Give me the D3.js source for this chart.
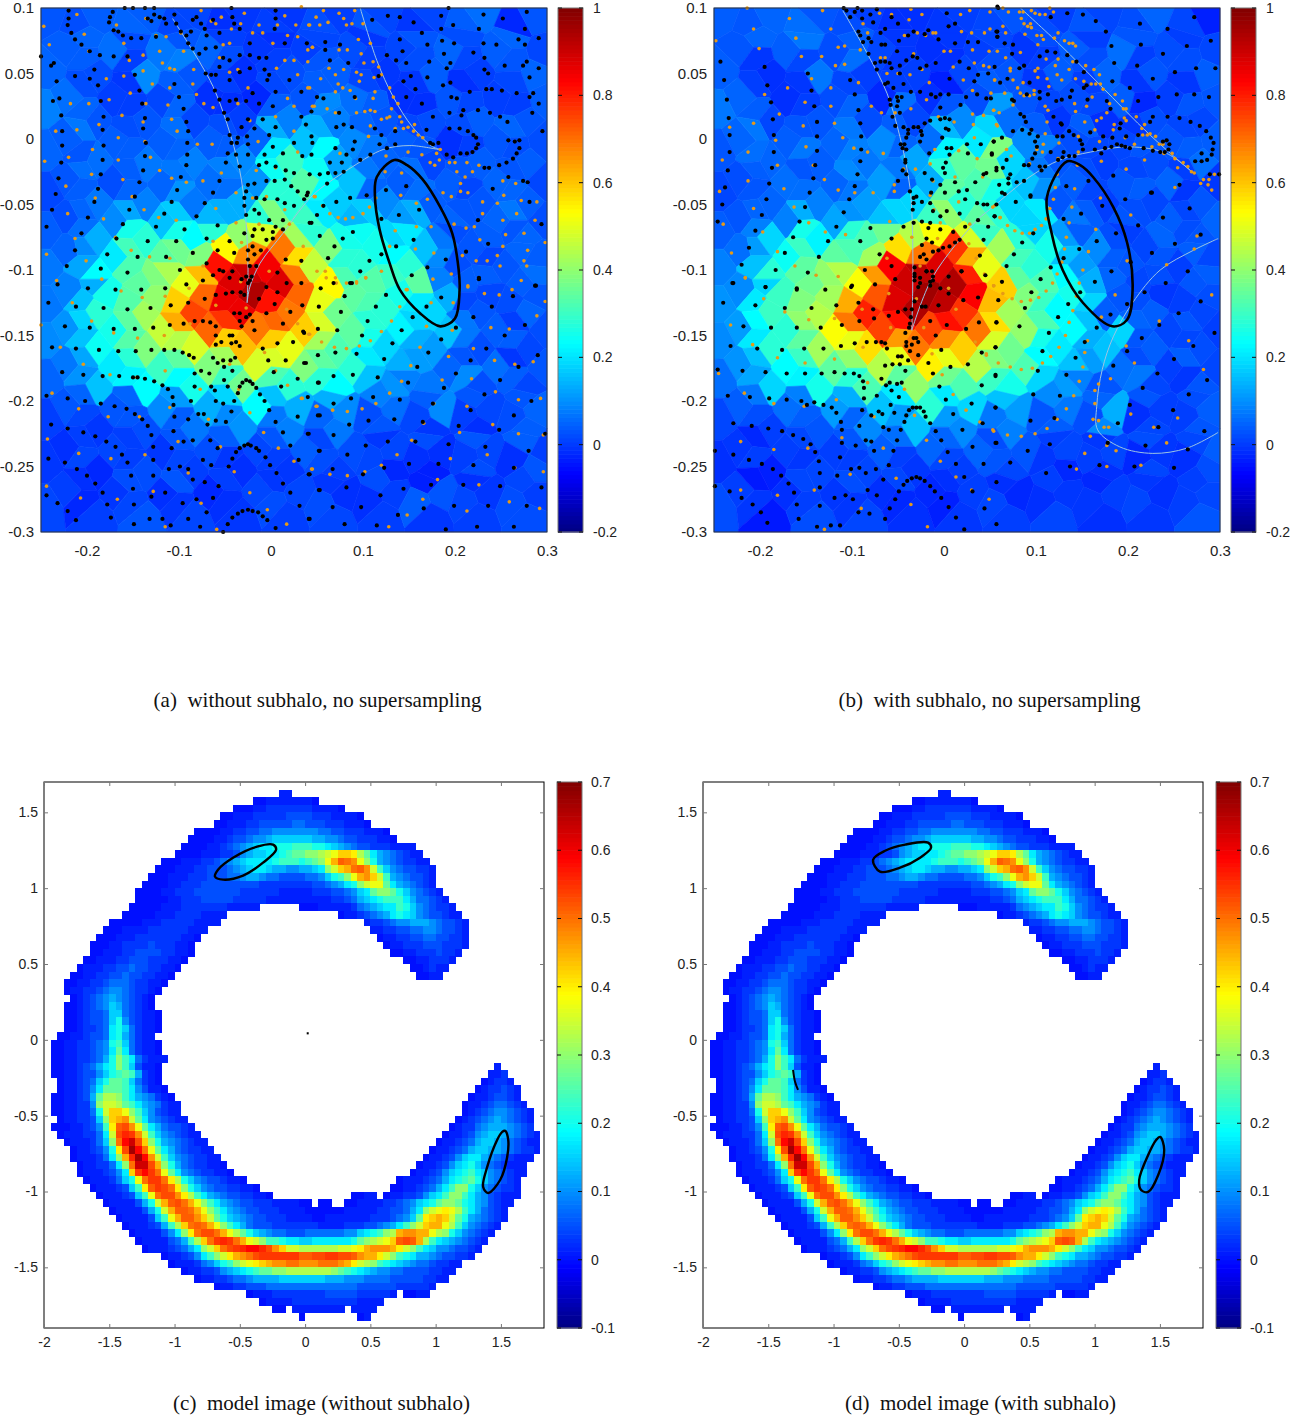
<!DOCTYPE html>
<html>
<head>
<meta charset="utf-8">
<script src="https://cdnjs.cloudflare.com/ajax/libs/d3/7.8.5/d3.min.js"></script>
<style>
body { margin: 0; background: #fff; }
svg { display: block; }
text { font-family: "Liberation Sans Narrow", "Liberation Sans", sans-serif; fill: #222; }
.caption { font-family: "Liberation Serif", serif; font-size: 21px; fill: #111; }
</style>
</head>
<body>
<div id="chart"></div>
<script>
// tick labels
const sourceXTicks = [-0.2, -0.1, 0, 0.1, 0.2, 0.3];
const sourceYTicks = [0.1, 0.05, 0, -0.05, -0.1, -0.15, -0.2, -0.25, -0.3];
const sourceBarTicks = [1, 0.8, 0.6, 0.4, 0.2, 0, -0.2];
const modelXTicks = [-2, -1.5, -1, -0.5, 0, 0.5, 1, 1.5];
const modelYTicks = [1.5, 1, 0.5, 0, -0.5, -1, -1.5];
const modelBarTicks = [0.7, 0.6, 0.5, 0.4, 0.3, 0.2, 0.1, 0, -0.1];
const captions = ["(a)\u00a0 without subhalo, no supersampling", "(b)\u00a0 with subhalo, no supersampling",
  "(c)\u00a0 model image (without subhalo)", "(d)\u00a0 model image (with subhalo)"];

// source plane cells, x,y pairs in thousandths
const cellPos = [
-243,96,-209,87,-190,94,-152,85,-137,96,-101,86,-86,97,-50,88,-35,96,2,84,17,97,54,87,70,96,108,85,121,95,157,86,172,97,211,88,226,96,264,85,288,94,
-220,69,-203,79,-168,67,-153,77,-116,66,-98,78,-64,68,-50,79,-9,69,2,78,44,68,52,77,93,68,105,79,146,69,157,78,199,66,209,79,249,68,261,78,297,67,
-243,52,-204,61,-193,49,-154,60,-141,48,-99,59,-90,50,-50,62,-35,50,2,60,17,50,53,61,66,49,106,62,120,50,157,61,173,48,210,62,222,50,262,60,286,49,
-221,33,-204,44,-167,31,-153,43,-115,30,-103,42,-62,31,-49,44,-11,32,3,43,42,31,54,43,95,31,104,44,145,32,158,43,197,30,211,44,249,31,263,43,298,31,
-247,24,-203,19,-194,14,-153,26,-139,13,-102,25,-86,14,-50,27,-36,15,2,26,14,14,56,26,65,14,110,27,118,15,162,26,169,13,213,27,221,14,266,26,275,14,
-220,1,-205,10,-165,-2,-154,9,-113,-3,-101,8,-63,-2,-49,11,-10,-1,3,9,42,-2,53,9,95,-2,105,11,147,-1,156,9,199,-3,211,11,250,-2,263,9,297,-2,
-246,-9,-205,-13,-192,-17,-154,-7,-138,-19,-101,-8,-90,-18,-48,-6,-37,-16,1,-7,16,-18,54,-7,68,-18,106,-6,119,-16,160,-7,169,-19,213,-6,224,-18,265,-7,277,-18,
-219,-31,-204,-22,-169,-33,-153,-23,-114,-35,-101,-24,-63,-33,-48,-22,-11,-32,2,-23,42,-34,53,-23,93,-33,107,-22,146,-33,158,-23,198,-35,210,-22,250,-34,263,-23,298,-33,
-244,-41,-207,-38,-191,-49,-154,-39,-140,-50,-101,-40,-89,-49,-49,-38,-37,-48,3,-39,15,-49,55,-39,67,-49,107,-38,119,-48,159,-39,171,-50,211,-38,225,-49,261,-39,277,-49,
-220,-60,-204,-54,-167,-62,-154,-55,-114,-63,-102,-56,-63,-62,-49,-54,-10,-61,3,-55,42,-62,54,-55,93,-63,107,-54,146,-61,158,-55,198,-63,210,-54,249,-62,263,-55,298,-62,
-245,-70,-205,-68,-193,-76,-153,-69,-141,-77,-101,-70,-87,-76,-63,-68,-35,-75,-11,-69,29,-76,41,-69,81,-77,94,-68,132,-75,145,-69,185,-77,197,-68,236,-76,263,-69,275,-76,
-219,-84,-205,-82,-166,-90,-154,-83,-114,-91,-101,-84,-76,-90,-48,-82,-23,-89,16,-83,29,-90,67,-83,80,-91,119,-82,133,-89,171,-83,185,-91,223,-82,237,-90,274,-83,290,-90,
-246,-98,-205,-96,-192,-104,-155,-97,-127,-105,-114,-98,-75,-104,-62,-96,-24,-103,-9,-97,27,-104,42,-97,81,-105,94,-98,133,-103,145,-97,185,-105,198,-96,235,-104,251,-97,288,-104,
-220,-116,-192,-110,-180,-118,-141,-111,-127,-119,-88,-112,-76,-118,-37,-110,-22,-117,14,-111,30,-118,66,-111,94,-119,107,-110,144,-117,159,-111,196,-119,211,-110,237,-118,276,-111,287,-118,
-245,-126,-207,-124,-191,-132,-153,-125,-141,-133,-101,-126,-89,-132,-49,-124,-37,-131,1,-125,17,-132,55,-125,67,-133,106,-124,119,-131,159,-125,171,-133,211,-124,225,-132,261,-125,277,-132,
-219,-144,-205,-138,-167,-146,-154,-139,-114,-147,-102,-140,-63,-146,-48,-138,-12,-145,4,-139,41,-146,55,-140,92,-147,108,-138,146,-145,157,-139,198,-147,210,-138,248,-146,264,-139,300,-146,
-246,-154,-206,-152,-192,-160,-154,-153,-139,-161,-102,-154,-87,-160,-50,-152,-35,-159,2,-153,16,-160,54,-154,68,-161,107,-152,120,-159,158,-153,172,-161,210,-152,224,-160,263,-153,277,-160,
-220,-172,-204,-166,-168,-174,-153,-167,-116,-175,-101,-168,-64,-174,-49,-166,-10,-173,3,-167,42,-174,54,-168,94,-175,106,-166,145,-173,159,-167,197,-175,211,-166,249,-174,262,-167,298,-174,
-244,-182,-207,-180,-191,-190,-155,-181,-140,-191,-101,-182,-89,-190,-49,-180,-37,-189,1,-181,17,-190,53,-182,69,-191,105,-180,133,-189,145,-181,171,-191,211,-180,225,-190,262,-181,277,-190,
-219,-204,-205,-195,-166,-206,-154,-196,-114,-207,-102,-197,-64,-206,-48,-195,-11,-205,4,-196,29,-206,67,-197,80,-207,119,-195,134,-205,170,-196,186,-207,222,-195,237,-206,275,-196,288,-206,
-245,-214,-205,-211,-192,-222,-153,-212,-141,-223,-102,-213,-87,-222,-50,-211,-35,-221,3,-212,16,-222,54,-213,68,-223,106,-211,119,-221,158,-212,172,-223,210,-211,224,-222,263,-212,276,-222,
-220,-236,-204,-227,-168,-238,-153,-228,-115,-239,-100,-229,-63,-238,-49,-227,-10,-237,3,-228,42,-238,54,-229,93,-239,120,-227,133,-237,171,-228,184,-239,223,-227,237,-238,274,-228,301,-238,
-246,-246,-206,-243,-191,-254,-155,-244,-139,-255,-101,-245,-89,-254,-49,-243,-36,-253,2,-244,15,-254,55,-245,69,-255,107,-243,132,-253,159,-244,172,-255,211,-243,223,-254,261,-244,288,-254,
-219,-268,-205,-259,-167,-270,-154,-260,-114,-271,-101,-261,-64,-270,-48,-259,-11,-269,4,-260,31,-270,66,-261,80,-271,118,-259,134,-269,169,-260,186,-271,222,-259,236,-270,276,-260,288,-270,
-246,-280,-206,-277,-192,-288,-153,-278,-140,-289,-102,-279,-87,-288,-50,-277,-36,-287,1,-278,17,-288,54,-279,68,-289,106,-277,119,-287,158,-278,173,-289,210,-277,224,-288,263,-278,277,-288
];
// surface brightness of those cells, hundredths
const cellValuesA = [
8,7,9,10,9,6,6,3,4,5,4,7,5,8,6,4,6,9,11,2,8,
9,10,11,7,12,8,10,5,4,3,5,6,7,4,6,8,10,7,9,10,6,
10,9,7,5,14,13,8,7,3,5,7,8,9,5,4,7,9,6,5,8,10,
11,7,5,4,6,9,3,5,2,6,8,9,11,6,3,4,8,3,5,6,9,
13,10,8,5,8,10,6,3,5,9,13,14,13,9,8,3,7,6,9,5,8,
9,12,9,7,9,11,9,7,10,18,20,18,14,10,9,6,3,7,8,10,7,
10,8,11,9,12,10,13,9,14,24,32,26,17,12,10,8,6,5,9,7,9,
8,11,7,9,10,12,11,13,15,27,35,27,20,12,9,11,9,8,10,8,6,
6,9,12,10,13,15,12,11,18,30,30,26,21,10,14,11,9,6,8,10,9,
7,10,14,17,20,21,19,18,30,40,32,24,19,21,16,18,10,8,10,12,7,
9,11,18,28,30,28,26,30,42,50,44,30,28,27,22,24,12,7,9,8,10,
10,14,24,33,36,38,40,55,68,70,58,40,30,28,26,20,14,8,6,10,9,
12,17,26,34,40,45,62,82,90,85,70,48,34,30,32,30,13,7,9,8,11,
13,18,28,36,42,52,72,88,94,88,72,55,36,35,28,36,18,9,6,9,8,
12,20,30,35,44,60,76,86,86,82,70,52,38,34,30,24,22,6,8,7,10,
15,22,28,36,48,64,72,78,70,72,60,50,36,30,25,22,20,12,9,5,7,
14,20,27,35,40,46,50,60,62,60,52,44,34,28,22,18,16,12,7,9,6,
12,17,24,30,32,36,40,44,50,50,40,36,30,24,18,16,10,8,11,4,8,
10,15,20,25,26,26,28,32,38,34,30,30,26,20,15,13,12,14,7,9,6,
8,10,8,10,14,16,18,22,26,20,18,18,14,13,11,9,14,8,6,8,10,
5,6,4,8,7,9,12,14,15,12,13,10,12,7,8,6,4,5,3,7,9,
3,5,6,5,4,8,7,9,6,8,9,6,7,4,6,7,3,8,6,9,5,
4,6,2,5,7,6,5,4,3,5,4,7,5,6,2,3,1,5,7,3,8,
5,3,4,7,3,8,2,5,6,4,6,4,3,7,5,1,8,3,4,6,5,
6,2,5,6,8,4,6,3,4,7,5,7,6,3,5,9,4,6,5,7,7
];
const cellValuesB = [
9,8,10,11,8,7,5,3,3,4,5,6,8,7,5,8,6,7,10,6,1,
8,10,9,12,7,9,6,4,3,4,5,6,4,7,9,5,11,8,7,5,6,
9,4,3,6,12,11,5,4,5,3,6,7,8,5,9,7,10,5,8,7,9,
10,5,3,4,7,6,2,5,3,1,7,9,8,4,7,5,9,4,5,4,8,
12,9,6,5,8,10,7,11,6,8,14,16,11,6,4,6,3,2,7,8,6,
10,12,9,8,10,12,14,9,11,19,24,22,14,9,7,9,6,4,8,6,9,
8,11,10,12,9,13,12,10,17,25,36,40,22,13,8,6,5,8,7,9,11,
7,9,11,8,10,14,16,12,18,30,34,38,20,12,9,7,8,6,10,5,4,
6,8,10,11,13,12,16,10,22,36,30,28,22,15,8,6,5,9,6,4,8,
8,10,13,18,17,15,20,22,32,42,36,30,22,24,12,9,8,7,9,6,10,
9,13,22,28,25,30,34,38,46,54,50,32,30,22,16,9,7,5,10,7,8,
11,16,27,32,36,34,44,58,70,78,64,44,33,28,20,14,9,6,8,9,6,
13,20,30,36,42,46,66,84,92,88,80,52,36,30,26,16,10,8,7,5,9,
14,22,32,38,44,54,74,90,96,94,84,60,40,34,28,18,8,6,4,8,7,
15,24,32,40,46,64,80,88,94,92,78,62,44,32,26,22,9,7,9,5,6,
16,26,30,42,54,70,76,82,76,82,70,58,42,34,26,20,22,10,6,8,5,
14,24,30,36,44,52,58,66,70,68,60,50,38,28,24,18,20,8,9,6,7,
15,20,26,32,36,42,46,52,56,52,46,40,34,26,20,16,11,7,5,9,6,
11,17,22,25,28,30,34,36,42,38,34,32,28,22,16,13,8,12,6,4,8,
9,12,11,13,16,18,20,24,30,24,22,20,16,14,12,10,18,8,5,7,9,
6,7,5,9,8,10,14,16,20,16,14,12,13,8,9,7,14,3,6,5,8,
4,2,5,6,5,8,9,11,10,10,10,7,8,5,6,4,6,7,4,6,9,
3,5,1,4,6,5,6,5,4,6,5,8,6,4,2,5,3,2,6,3,7,
5,0,3,6,4,7,3,6,2,3,5,3,2,5,4,2,5,4,3,5,6,
7,4,0,5,7,4,6,2,3,1,4,6,5,3,6,4,3,6,4,5,8
];
// what those read-off numbers come to on the colour bar
const cellCalibIn = [0, 10, 20, 30, 100];
const cellCalibOut = [-0.04, 0.05, 0.16, 0.28, 1];

// ray traced pixels, x,y pairs in thousandths
const blackA = [
-250,63,-239,56,-236,58,-233,44,-237,29,-230,31,-228,18,-227,6,-227,-5,-228,-18,-231,-30,-234,-42,-238,-54,-244,-67,-220,98,-220,92,-221,87,-217,81,-213,76,-206,72,-213,48,-197,46,-192,53,-197,67,-186,64,-188,41,-185,29,-182,17,-183,7,-182,-5,-183,-16,-185,-27,-188,-38,-192,-48,-199,-60,-206,-72,-213,-85,-222,-97,
-172,97,-175,93,-176,89,-171,83,-166,82,-161,79,-152,77,-141,77,-159,100,-150,100,-137,100,-127,100,-171,63,-156,63,-148,49,-143,37,-140,27,-137,16,-139,8,-136,-3,-137,-13,-139,-24,-143,-33,-148,-44,-154,-54,-161,-65,-168,-76,-178,-88,-185,-99,
-134,92,-130,90,-127,95,-121,93,-116,92,-114,88,-105,95,-103,88,-98,82,-92,79,-87,82,-85,91,-81,93,-76,88,-72,84,-70,79,-63,91,-56,81,-43,100,-42,93,-40,88,-34,84,-23,73,5,98,5,92,4,84,15,73,-125,78,-90,73,-85,69,-78,65,-71,69,-60,70,-52,62,-45,60,-34,64,-23,64,-13,62,-5,62,-71,50,-65,49,-60,49,-56,55,-45,45,-34,51,-23,54,-7,53,-2,49,-4,45,-61,37,-56,30,-45,29,-38,30,-27,29,-20,35,-13,27,2,25,5,36,20,45,33,36,-51,20,-47,15,-45,3,-43,-3,-36,1,-32,9,-25,15,-18,8,-26,2,-25,-4,-37,-3,-47,-11,-38,-12,-25,-12,-49,-18,-34,-21,-9,15,5,9,-2,3,-7,-12,2,-6,13,-11,25,-3,33,17,38,11,44,2,45,-3,34,-13,44,-12,-13,-20,-5,-18,5,-21,16,-24,25,-26,42,-27,-25,-35,-27,-40,-29,-45,-18,-34,-5,-32,4,-32,15,-31,22,-36,29,-40,40,-41,-16,-45,-7,-46,7,-46,15,-49,25,-51,36,-46,-29,-51,-18,-54,-13,-57,-27,-58,-2,-62,13,-62,5,-67,-18,-69,-9,-69,2,-71,13,-69,-20,-74,-5,-77,2,-76,-25,-85,-20,-82,-18,-88,-11,-85,-25,-92,-23,-97,-16,-97,-27,-105,-21,-105,-32,-107,
-105,42,-100,32,-95,23,-92,13,-90,6,-91,-3,-91,-12,-92,-20,-98,-29,-102,-39,-108,-48,-116,-57,-125,-67,-134,-78,-145,-90,-156,-102,-56,-32,-63,-41,-72,-49,-81,-59,-94,-69,-103,-78,-114,-90,-99,-100,-85,-87,-70,-76,-58,-66,-45,-78,-58,-85,-70,-95,-56,-100,-42,-101,-40,-87,-29,-72,16,-92,7,-102,33,-93,44,-64,53,-74,
110,91,127,94,140,93,155,89,164,81,185,94,198,87,185,84,193,100,231,95,252,92,278,97,276,84,226,84,140,76,126,64,143,67,170,72,186,75,199,73,231,73,245,72,269,76,291,77,276,72,220,66,188,65,172,59,147,58,136,60,195,58,191,54,232,62,232,53,236,50,254,56,274,56,278,59,291,54,281,47,152,48,170,47,144,44,187,41,195,43,157,38,216,36,234,38,240,38,251,37,267,35,285,35,281,32,147,32,164,27,196,32,202,31,209,22,207,18,194,20,225,22,238,20,249,17,257,13,291,27,284,20,295,6,258,-1,265,-2,270,-1,270,-7,267,-11,263,-15,256,-18,248,-20,237,-22,232,-22,214,6,220,3,223,1,225,-4,223,-7,219,-10,213,-11,206,-11,198,-14,191,-12,205,8,194,8,176,17,169,7,182,-3,176,-4,173,-3,274,-32,279,-33,258,-29,241,-38,281,-48,225,-62,294,-65,236,-80,212,-86,190,-92,170,-98,226,-106,287,-112,
79,11,88,9,71,9,91,-2,89,-8,82,-12,70,-7,77,-18,64,-18,62,-26,70,-26,79,-25,97,-16,108,-12,118,-4,126,-7,135,-4,113,8,120,3,135,6,104,-43,86,-45,71,-48,57,-51,50,-58,39,-43,61,-34,53,-27,44,21,59,74,39,73,75,72,84,58,64,60,59,68,117,48,91,32,74,20,50,32,57,31,120,-61,139,-58,125,-39,147,-36,161,-54,89,-71,78,-76,69,-82,62,-91,136,-82,155,-77,107,-93,97,-101,86,-110,68,-110,120,-88,153,-104,42,-64,
-232,-111,-242,-125,-224,-143,-238,-159,-227,-178,-244,-196,-221,-198,-239,-218,-221,-221,-242,-244,-224,-247,-211,-252,-232,-278,-244,-272,-221,-284,-212,-291,-199,-114,-212,-128,-197,-144,-212,-160,-204,-180,-202,-200,-204,-224,-191,-227,-200,-257,-191,-263,-183,-270,-178,-279,-174,-289,-187,-161,-183,-181,-185,-202,-170,-204,-179,-231,-169,-235,-162,-241,-156,-247,-152,-257,-150,-267,-149,-279,-149,-294,-169,-115,-182,-129,-171,-145,-166,-162,-165,-181,-157,-206,-148,-210,-140,-214,-134,-219,-130,-226,-128,-235,-128,-245,-128,-257,-130,-273,-132,-290,-156,-130,-148,-145,-147,-162,-150,-182,-145,-182,-137,-183,-127,-185,-118,-188,-112,-191,-107,-197,-106,-203,-105,-212,-106,-223,-108,-236,-111,-252,-115,-270,-118,-290,-109,-295,-141,-115,-131,-129,-128,-144,-130,-161,-116,-161,-105,-161,-96,-163,-89,-165,-84,-167,-115,-114,-109,-127,-110,-142,
-92,-111,-90,-125,-95,-141,-83,-139,-74,-139,-66,-140,-60,-143,-72,-122,-60,-119,-49,-118,-42,-117,-33,-117,-74,-108,-63,-104,-52,-101,-45,-106,-25,-110,-23,-108,-29,-119,-34,-133,-40,-133,-27,-136,-23,-134,-20,-139,-34,-139,-32,-143,-18,-146,-60,-150,-45,-150,-42,-150,-54,-155,-43,-156,-38,-155,-34,-158,-60,-157,-63,-167,-58,-171,-52,-169,-44,-169,-39,-167,-51,-174,-42,-177,-83,-179,-76,-177,-67,-179,-51,-184,-83,-189,-65,-189,-61,-192,-47,-189,-87,-200,-60,-200,-52,-202,-40,-200,-43,-208,-79,-210,-73,-210,-90,-214,-69,-218,-60,-215,-49,-216,-95,-231,-85,-230,-66,-230,
-36,-194,-34,-189,-31,-186,-27,-184,-23,-185,-20,-187,-16,-190,-12,-195,-46,-250,-42,-244,-38,-239,-34,-236,-29,-234,-25,-233,-22,-234,-16,-236,-13,-238,-6,-243,-47,-294,-42,-289,-36,-286,-31,-284,-25,-283,-20,-284,-14,-285,-9,-288,-4,-291,5,-297,
-74,-245,-99,-250,-90,-252,-85,-260,-72,-262,-58,-236,-65,-249,-57,-265,-63,-274,-96,-278,-81,-275,-90,-290,-70,-285,-77,-296,-52,-300,-1,-249,6,-255,13,-263,21,-270,31,-280,41,-290,21,-234,13,-224,30,-245,40,-225,52,-238,29,-212,5,-216,-2,-207,-7,-200,11,-189,29,-183,51,-186,51,-211,41,-256,52,-268,-3,-169,3,-178,16,-169,36,-171,7,-156,24,-155,-9,-160,13,-141,-5,-133,-13,-122,4,-126,21,-132,35,-147,34,-127,33,-110,17,-110,7,-117,-5,-113,
54,-114,80,-120,88,-110,52,-128,76,-132,36,-148,51,-145,72,-146,38,-171,51,-165,70,-163,93,-164,68,-181,52,-186,89,-180,116,-182,40,-197,68,-202,87,-198,111,-197,53,-211,106,-215,85,-218,41,-225,68,-226,53,-238,83,-241,103,-234,67,-252,42,-256,100,-256,53,-268,82,-266,67,-281,98,-281,42,-290,80,-294,115,-295,138,-287,166,-282,119,-272,144,-267,174,-264,123,-251,150,-248,182,-248,127,-231,157,-231,193,-233,134,-214,165,-216,204,-219,140,-199,176,-202,232,-195,217,-207,188,-190,149,-186,201,-179,159,-174,217,-169,123,-168,171,-163,234,-160,269,-174,249,-184,132,-156,185,-153,201,-144,254,-150,276,-142,220,-136,154,-136,169,-128,185,-121,142,-146,114,-128,105,-139,99,-150,125,-119,240,-128,263,-120,226,-107,288,-112,264,-211,283,-200,290,-165,248,-222,298,-225,233,-235,280,-238,220,-249,264,-251,209,-264,249,-265,294,-266,199,-280,236,-280,278,-280,190,-298,224,-296,264,-296
];
const orangeA = [
-247,86,-241,72,-211,95,-203,80,-198,67,-179,46,-176,30,-198,27,-218,27,-234,6,-211,7,-187,11,-162,18,-166,1,-194,-8,-220,-14,-246,-17,-195,-27,-166,-16,-161,-31,-223,-36,-191,-45,-221,-57,-182,-61,-151,-44,-138,-54,-122,-60,-103,-62,-213,-76,-169,-75,-152,-85,-244,-88,-201,-93,-132,-90,-110,-91,-168,87,-160,73,-154,60,-160,48,-139,64,-139,52,-153,35,-136,27,-129,42,-118,58,-121,67,-110,54,-105,53,-110,39,-112,26,-108,15,-139,13,-137,-2,-131,-14,-121,-24,-108,-30,-92,-33,-102,6,-80,-4,-64,-4,-73,27,-63,24,-85,42,-81,34,-84,53,-95,67,-136,92,-125,79,-114,78,-98,81,-76,98,-65,90,-60,88,-54,93,-43,84,-29,96,-33,88,-20,81,-13,87,-9,81,-23,73,2,73,15,94,7,87,33,101,18,79,27,87,42,87,49,93,15,60,25,60,40,59,45,70,40,68,29,78,6,54,29,49,40,39,18,31,25,25,45,25,-52,72,-45,73,-56,62,-45,51,-36,53,-25,39,-36,27,-23,14,5,17,25,6,-14,-2,29,-10,5,-22,-16,-24,-5,-44,-20,-45,-38,-41,-60,-53,-54,-26,-74,-32,-38,-64,-13,-65,-32,-79,-63,-78,-85,-87,-74,-97,35,-82,47,-44,15,-54,20,-65,
57,98,41,87,53,87,62,89,74,96,79,92,82,87,88,88,91,98,100,88,95,76,108,73,45,70,74,68,83,68,98,65,101,58,111,59,117,55,120,49,112,47,93,51,98,49,79,53,63,54,54,46,70,49,73,42,78,39,86,37,96,44,42,39,92,31,70,36,113,36,111,31,129,39,133,32,138,27,131,23,108,22,113,21,93,20,102,21,70,20,61,23,47,25,126,16,120,15,129,17,140,17,142,13,135,8,144,8,149,9,156,11,108,10,106,2,155,6,160,3,165,1,184,-8,180,-11,164,-12,149,-10,125,-13,75,-11,173,-18,183,-16,178,-20,194,-18,200,-18,213,-18,226,-20,202,-25,219,-25,211,-29,124,-25,142,-26,206,-34,187,-41,196,-44,206,-40,214,-41,230,-48,246,-49,253,-43,252,-32,266,-34,272,-47,289,-48,230,-57,252,-62,267,-57,199,-65,212,-68,221,-67,287,-62,275,-72,255,-73,227,-77,298,-79,252,-82,279,-85,208,-89,246,-89,223,-93,235,-93,275,-93,278,-97,214,-112,249,-97,
114,-45,141,-43,158,-49,170,-46,135,-70,158,-67,174,-67,129,-82,157,-84,177,-87,176,-107,196,-103,148,-115,107,-52,100,-57,89,-60,81,-61,73,-60,64,-57,56,-51,48,-44,70,-106,50,-101,59,-101,82,-110,93,-110,103,-106,120,-101,
-233,-108,-216,-125,-195,-139,-250,-142,-229,-159,-204,-172,-238,-194,-209,-206,-177,-212,-143,-212,-243,-229,-209,-240,-174,-244,-137,-241,-244,-265,-207,-274,-167,-275,-128,-269,-76,-278,-115,-296,-90,-255,-101,-231,-55,-235,-68,-214,-110,-205,-77,-191,-115,-177,-146,-182,-175,-180,-45,-172,-35,-191,-23,-209,-8,-224,8,-236,25,-246,44,-252,-40,-254,-23,-270,-4,-283,17,-294,-59,-298,18,-188,33,-198,49,-204,5,-177,-7,-163,-145,-152,-171,-148,-163,-116,-140,-121,-184,-107,-116,-150,-115,-120,-88,-141,-60,-127,-27,-129,-33,-109,-2,-101,17,-130,29,-141,41,-149,-89,-114,
50,-204,67,-207,83,-208,99,-206,114,-202,129,-194,142,-185,152,-173,162,-159,34,-198,45,-252,64,-256,83,-257,102,-254,120,-249,137,-241,153,-230,166,-217,177,-202,186,-184,193,-166,197,-146,198,-125,174,-125,169,-143,140,-128,131,-139,120,-147,108,-154,96,-158,82,-160,69,-159,55,-155,42,-149,147,-115,71,-110,60,-106,93,-109,103,-106,214,-113,232,-118,248,-119,262,-115,272,-108,298,-124,289,-135,259,-145,239,-144,220,-160,243,-169,265,-172,285,-170,218,-183,244,-193,269,-199,293,-198,213,-204,241,-218,269,-225,296,-226,205,-224,235,-241,265,-251,296,-254,195,-244,226,-264,259,-277,292,-282,181,-260,213,-284,165,-275,148,-287,128,-296
];
const blackB = [
-243,59,-239,45,-236,30,-234,16,-233,3,-233,-10,-235,-24,-238,-37,-241,-50,-246,-63,-195,55,-192,41,-188,28,-186,15,-185,3,-185,-10,-187,-22,-190,-34,-193,-46,-198,-58,-205,-70,-212,-83,-220,-96,-230,-110,-148,50,-144,37,-141,25,-138,13,-138,2,-138,-9,-140,-20,-142,-30,-146,-41,-151,-52,-157,-63,-164,-75,-173,-87,-183,-100,-194,-113,-102,45,-97,34,-93,22,-91,12,-90,2,-90,-8,-91,-17,-94,-27,-97,-36,-103,-46,-109,-56,-117,-67,-126,-78,-136,-90,-148,-102,-160,-114,
-109,100,-106,98,-102,93,-97,97,-94,100,-89,98,-89,92,-93,82,-91,79,-88,74,-82,77,-79,74,-80,95,-77,89,-73,99,-69,81,-64,84,-68,72,-64,72,-57,93,-50,88,-51,67,-49,75,-39,79,-33,82,-17,83,-21,80,-6,76,5,86,12,88,12,73,3,96,26,74,37,74,57,82,58,78,59,100,
-82,65,-75,58,-73,53,-69,59,-64,59,-59,58,-57,54,-48,56,-41,60,-34,63,-29,62,-26,54,-19,56,-9,58,-48,50,17,59,27,54,37,49,48,50,-64,42,-61,43,-55,39,-44,42,-51,32,-46,32,-36,36,-26,36,-14,34,-9,32,-4,34,5,34,6,46,33,44,24,32,36,34,46,31,51,31,-59,30,-58,26,-50,29,-51,25,-4,24,18,26,-48,20,-56,17,-53,10,-44,9,-39,7,-33,9,-28,9,-25,6,-24,3,-39,4,-41,1,-43,-4,-47,-4,-45,-7,-41,-8,-26,-2,-21,12,-15,14,-4,15,1,16,6,15,2,8,5,7,-2,1,3,-7,8,-7,6,-12,-42,-16,-42,-18,-45,-24,-41,-27,-50,-32,-37,-40,-16,-11,25,-4,40,-4,54,-2,52,-11,26,-11,2,-18,-1,-22,1,-26,-21,-26,-13,-31,-4,-35,12,-33,34,-33,43,-27,46,-26,57,-22,
-33,-45,-30,-44,-33,-49,-34,-54,-24,-48,-14,-41,1,-41,16,-40,25,-39,36,-49,43,-50,47,-50,23,-46,17,-57,3,-55,-4,-59,-12,-55,-15,-49,-24,-63,-33,-64,-44,-67,-15,-64,-17,-68,-4,-69,10,-71,23,-67,37,-62,55,-59,57,-50,-19,-76,-24,-81,-13,-79,-6,-85,-1,-83,6,-82,12,-79,17,-77,-12,-86,-22,-88,-26,-90,-19,-92,43,-77,39,-89,19,-101,5,-105,-12,-105,-19,-101,-32,-98,-32,-105,-26,-110,-15,-112,-86,-100,-100,-112,-57,-97,-53,-107,-70,-88,-57,-76,-80,-68,-91,-78,
58,101,58,82,58,78,66,73,75,72,74,65,104,63,112,67,121,66,134,64,144,59,87,56,82,54,55,55,69,46,61,43,93,43,104,36,113,34,90,34,137,32,139,37,155,41,152,51,74,30,76,29,104,31,128,30,122,29,156,30,152,39,177,29,181,23,202,39,183,44,185,58,210,56,227,46,233,32,253,34,272,34,288,32,251,51,274,54,295,54,238,65,214,72,182,71,176,82,213,88,243,84,264,71,290,75,272,93,165,90,151,95,134,96,116,93,211,29,227,17,224,13,243,17,256,16,268,13,278,10,285,6,290,1,293,-3,292,-8,291,-12,286,-16,280,-17,280,-11,273,-17,289,-27,299,-27,
238,-2,242,-1,245,-4,244,-8,240,-10,235,-10,227,-9,217,-7,211,3,202,-7,197,-6,193,-5,188,-4,182,-6,175,-7,171,-11,164,-8,198,2,191,8,192,12,183,1,173,2,159,5,141,3,136,6,129,2,123,2,127,12,128,11,119,17,89,13,87,17,83,19,85,7,95,7,93,4,102,2,99,-2,101,-6,99,-11,96,-15,116,-10,130,-10,136,-13,129,-14,124,-16,142,-13,150,-4,148,-1,151,-8,104,-21,106,-24,110,-21,92,-20,87,-20,79,-33,87,-32,72,-27,70,-30,64,-22,57,-24,60,-35,70,-34,66,-42,63,-41,94,-44,75,6,63,1,54,-2,52,-12,68,-16,256,-35,226,-41,184,-28,157,-32,133,-36,
94,-43,78,-48,55,-59,48,-67,97,-72,85,-79,76,-88,68,-97,63,-109,59,-123,57,-140,56,-159,56,-180,56,-205,56,-232,72,-247,111,-255,82,-143,88,-129,95,-117,105,-107,116,-98,130,-61,149,-57,172,-51,197,-46,225,-41,267,-53,238,-60,211,-66,187,-72,166,-78,147,-84,130,-91,279,-73,251,-80,226,-87,203,-94,182,-101,164,-109,148,-117,135,-126,124,-136,114,-148,107,-162,102,-177,97,-195,94,-215,91,-238,265,-101,241,-110,218,-117,199,-126,181,-134,166,-144,153,-155,143,-167,133,-180,126,-196,120,-213,115,-233,279,-124,255,-133,234,-142,215,-152,199,-162,184,-173,294,-148,271,-158,250,-168,232,-179,216,-190,202,-203,189,-217,178,-232,169,-249,137,-250,286,-184,266,-195,249,-207,233,-220,219,-234,207,-250,250,-251,265,-237,283,-223,
-229,-110,-240,-125,-218,-143,-232,-158,-246,-176,-219,-177,-235,-196,-211,-197,-229,-217,-209,-219,-191,-221,-249,-238,-229,-241,-212,-245,-198,-248,-186,-252,-177,-257,-169,-263,-163,-270,-160,-279,-158,-290,-249,-265,-233,-269,-220,-274,-208,-279,-199,-285,-192,-293,-194,-113,-205,-127,-188,-144,-203,-160,-194,-178,-190,-198,-171,-179,-176,-161,-160,-144,-173,-129,-160,-115,-171,-199,-176,-223,-164,-226,-153,-229,-145,-233,-140,-239,-136,-246,-135,-255,-135,-266,-135,-280,-138,-296,-129,-115,-144,-129,-134,-144,-152,-160,-131,-160,-151,-179,-155,-200,-149,-203,-141,-201,-131,-203,-122,-205,-117,-209,-112,-216,-111,-222,-111,-232,-113,-243,-116,-257,-119,-274,-113,-295,-123,-295,-133,-179,-119,-178,-108,-179,-98,-179,-92,-181,-88,-185,-87,-190,-87,-198,-89,-207,-92,-219,-96,-234,-101,-252,-107,-272,-99,-275,-93,-285,-81,-286,-64,-290,
-117,-127,-111,-142,-112,-158,-101,-113,-93,-125,-92,-139,-97,-156,-84,-155,-74,-155,-68,-155,-64,-156,-62,-160,-75,-111,-77,-130,-76,-137,-60,-135,-50,-132,-42,-130,-35,-130,-36,-136,-37,-141,-38,-144,-42,-148,-41,-155,-33,-152,-30,-152,-28,-155,-35,-157,-41,-158,-37,-162,-28,-165,-39,-169,-46,-166,-50,-166,-48,-172,-56,-172,-64,-173,-42,-177,-32,-124,-32,-108,-32,-103,-26,-106,-28,-113,-19,-101,-13,-101,-15,-109,-12,-108,-24,-128,-20,-128,-15,-139,-9,-150,-3,-161,-17,-171,-12,-179,-5,-189,2,-199,10,-210,20,-222,31,-235,43,-248,57,-262,7,-174,26,-172,41,-163,56,-159,56,-181,41,-188,30,-202,56,-205,42,-217,57,-232,5,-118,21,-123,-6,-127,3,-142,24,-145,37,-121,38,-140,57,-140,45,-104,19,-101,-4,-114,
-68,-183,-63,-188,-59,-186,-51,-187,-46,-186,-57,-192,-73,-196,-49,-197,-58,-203,-79,-211,-71,-208,-67,-210,-54,-209,-66,-220,-60,-222,-47,-222,-43,-216,-85,-230,-79,-231,-51,-230,-76,-238,-55,-238,-92,-251,-60,-249,-85,-255,-74,-252,-66,-260,-83,-268,-73,-272,-59,-282,-53,-275,31,-269,44,-282,13,-289,22,-298,57,-294,5,-281,-3,-274,13,-248,22,-258,4,-239,-3,-230,-9,-223,
-41,-211,-38,-207,-34,-205,-30,-205,-26,-205,-22,-208,-20,-212,-15,-217,-49,-269,-44,-264,-40,-261,-35,-259,-30,-258,-26,-259,-21,-261,-15,-265,-10,-269
];
const orangeB = [
-214,100,-168,92,-207,84,-248,75,-201,69,-161,77,-132,98,-123,84,-155,63,-133,63,-115,70,-108,71,-118,56,-108,57,-170,39,-144,46,-195,34,-123,39,-93,43,-123,25,-151,28,-179,19,-207,12,-233,9,-153,10,-119,12,-110,1,-183,-1,-150,-6,-213,-10,-241,-16,-98,-7,-83,-10,-66,-11,-142,-20,-181,-20,-213,-32,-130,-31,-244,-40,-174,-38,-115,-39,-97,-41,-77,-41,-54,-35,-54,-40,-207,-53,-163,-52,-240,-65,-147,-64,-197,-71,-129,-71,-107,-73,-59,-63,-35,-75,-181,-86,-231,-87,-162,-97,-216,-106,-139,-104,-115,-105,-88,-100,-62,-91,-91,68,-79,25,-68,20,-53,20,-36,23,-69,62,-64,62,-62,50,-50,50,-37,49,-24,53,-33,65,-43,79,-38,91,-36,99,-24,95,-29,81,-20,79,-12,81,-9,81,-57,95,-70,96,-88,88,-83,81,0,67,7,67,18,95,19,82,30,81,28,98,44,81,50,97,50,84,31,68,49,67,58,67,10,55,33,58,43,56,49,55,-16,43,21,45,55,45,31,37,51,35,-19,30,31,19,43,18,54,22,60,20,-6,17,11,13,32,11,57,11,33,1,-10,-8,16,-9,36,-15,-15,-19,-44,-23,-31,-23,12,-29,42,-29,-12,-32,-15,-43,16,-48,55,-51,-11,-54,28,-65,61,-60,-4,-64,-7,-76,27,-80,-24,-82,35,-91,45,-104,54,-112,-26,-97,
64,100,70,97,82,97,86,97,95,98,99,96,104,95,110,95,115,100,119,97,84,92,87,88,91,86,94,88,95,85,64,86,67,81,88,80,101,79,106,79,108,76,124,81,120,77,131,75,136,73,140,73,143,71,102,72,83,66,67,62,111,61,124,61,140,59,154,56,163,53,169,49,72,54,72,52,99,52,102,54,121,56,123,49,136,53,128,45,143,46,152,44,160,42,165,42,170,42,75,45,55,45,102,47,112,46,86,43,114,40,173,38,186,34,80,39,98,37,83,35,66,35,87,33,93,33,98,34,161,32,194,29,180,27,142,27,155,25,110,25,113,22,75,26,195,23,198,23,143,21,177,20,209,17,196,16,198,14,218,11,215,8,171,16,153,13,112,13,185,11,184,7,166,14,164,7,110,4,146,2,211,3,224,4,230,2,216,3,221,3,197,1,207,-4,226,-6,234,-4,238,-4,125,-3,108,-4,169,-2,54,22,101,-8,107,-10,146,-10,248,-11,251,-15,239,-11,260,-18,265,-21,269,-25,272,-26,254,-22,294,-27,282,-31,279,-34,288,-31,287,-35,291,-39,251,-37,198,-23,171,-17,145,-20,124,-15,93,-19,73,-13,68,-8,58,10,123,-27,121,-37,142,-38,218,-16,
170,-45,119,-46,139,-52,203,-58,115,-53,111,-61,136,-64,165,-69,106,-66,99,-69,93,-72,85,-72,77,-70,69,-66,61,-60,53,-52,133,-75,131,-84,157,-86,128,-94,123,-103,151,-100,199,-93,242,-96,272,-84,275,-74,282,-176,118,-110,111,-116,103,-121,94,-123,84,-124,74,-122,64,-118,54,-112,44,-103,147,-110,144,-120,140,-131,186,-119,171,-136,136,-140,132,-150,125,-159,116,-166,107,-171,96,-175,84,-176,72,-174,59,-171,46,-164,156,-154,153,-163,151,-174,198,-158,207,-171,147,-185,181,-183,168,-187,164,-192,141,-196,164,-202,133,-206,203,-210,123,-214,162,-214,168,-215,174,-220,179,-220,112,-221,99,-225,84,-227,69,-226,53,-222,159,-227,228,-220,254,-213,291,-119,234,-139,266,-154,242,-232,187,-238,177,-234,153,-240,214,-249,177,-250,144,-252,
-216,-106,-196,-122,-173,-132,-147,-138,-119,-137,-89,-130,-60,-118,-232,-142,-208,-157,-181,-167,-151,-171,-119,-168,-88,-159,-58,-144,-22,-144,-30,-122,-245,-179,-217,-194,-185,-202,-152,-204,-117,-199,-83,-186,-49,-166,-13,-164,-43,-191,-76,-212,-111,-228,-148,-236,-185,-237,-221,-231,-221,-268,-181,-272,-141,-268,-102,-256,-66,-236,-32,-211,-2,-180,10,-195,-19,-230,-52,-259,-90,-282,-130,-298,-36,-279,-4,-246,24,-207,46,-165,34,-155,13,-258,39,-216,54,-223,-18,-296,30,-268,49,-275,13,-130,5,-114,54,-112
];

// critical curves and apertures, x,y in thousandths
const curvesA = [
  [97,100,115,60,133,32,154,9,176,-6,184,-8,151,-5,122,-8,89,-21,50,-40,34,-52,13,-72,-12,-95,-23,-113,-26,-125],
  [-107,92,-77,58,-63,40,-48,12,-34,-24,-28,-56,-25,-98,-26,-125]
];
const curvesB = [
  [-110,98,-84,66,-62,35,-48,2,-37,-37,-34,-77,-34,-113,-35,-146],
  [-35,-146,-12,-105,36,-62,53,-52,93,-29,126,-16,159,-10,202,-6,242,-11,271,-26],
  [83,100,126,72,170,41,224,3,271,-26],
  [298,-76,271,-85,235,-100,205,-125,184,-151,172,-176,166,-204,167,-222,191,-235,227,-240,264,-236,298,-224]
];
const apertureA = [134,-16,115,-29,113,-44,118,-69,129,-95,140,-115,162,-133,184,-143,200,-137,205,-115,204,-100,197,-72,184,-52,165,-31,148,-20];
const apertureB = [134,-17,112,-44,117,-72,129,-100,151,-125,183,-143,199,-138,205,-115,199,-79,184,-52,162,-29,148,-20];
const imageRingsC = [
  [-690,1076,-628,1056,-475,1083,-322,1168,-222,1254,-245,1287,-368,1274,-552,1201,-667,1122],
  [1533,-600,1556,-660,1548,-772,1494,-924,1402,-1010,1364,-970,1395,-838,1471,-660,1510,-607]
];
const imageRingsD = [
  [-697,1188,-644,1109,-490,1135,-337,1201,-253,1267,-276,1300,-452,1287,-605,1247],
  [1502,-640,1533,-726,1487,-891,1410,-1003,1356,-990,1341,-924,1410,-759,1471,-660]
];
const subhaloMarkC = [20,50,20,36];
const subhaloMarkD = [-1310,-198,-1295,-277,-1272,-330];

// model image: row, first column, brightness levels (base 36), 0.05 grid
const levelValues = [0,0.012,0.03,0.05,0.075,0.1,0.125,0.15,0.175,0.205,0.235,0.265,0.3,0.325,0.35,0.375,0.4,0.425,0.45,0.475,0.5,0.515,0.53,0.545,0.56,0.585,0.63,0.67];
const modelRows = [
[0,36,"11"],[1,32,"00111 11110"],[2,29,"00011 22222 22111 10"],[3,27,"00111 22222 33332 22111 10"],[4,26,"00111 22333 33443 33222 1110"],
[5,23,"00001 12233 44555 55554 43322 21110"],[6,22,"00001 12334 55677 77776 65543 32221 10"],[7,21,"00001 12345 67889 99aaa 99876 54332 22111 1"],
[8,20,"00001 11223 56778 89abb ccdef hhgdb 86543 211"],[9,18,"00011 12234 56788 889aa a9abc filkj fc965 43221 1"],
[10,17,"00011 12233 34567 88766 55667 8cehi kljea 75433 221"],[11,16,"00011 12223 33445 66544 333 34457 9acfi jhea6 54332 1"],
[12,15,"00001 12223 33333 33322 2222 22334 5689c effb8 65432 1"],[13,14,"00001 12223 33333 32222 22111 11222 33457 8bccb 97543 21"],
[14,14,"00000 11222 33333 22222 11111 11111 22346 789aa a8644 321"],[15,13,"00000 11122 22222 11111"],[15,39,"00011 11124 56788 a9754 3221"],
[16,12,"00000 11122 22111 1"],[16,45,"01123 45689 87543 3211"],[17,10,"00000 11122 22211 11"],[17,49,"12234 55666 54332 1"],
[18,9,"00011 11222 22211 1"],[18,50,"11223 34455 43321"],[19,8,"00011 12222 22211 0"],[19,51,"01122 33443 3221"],
[20,7,"00011 22223 22211 0"],[20,52,"01122 23332 221"],[21,7,"00111 22333 32211 0"],[21,53,"00112 22322 1"],
[22,6,"00111 22333 22211 0"],[22,55,"0011 2221"],[23,5,"01112 23343 32211 0"],[23,56,"001211"],[24,4,"00112 23343 32211 0"],[24,57,"0011"],
[25,3,"00112 23444 32211 0"],[26,3,"01122 34554 32210"],[27,4,"01234 56543 210"],[28,3,"00123 45764 3210"],[29,3,"00123 34774 32110"],
[30,3,"00123 34795 32110"],[31,3,"00122 34897 42110"],[32,2,"00112 33489 64211"],[33,1,"00112 23459 a7421 10"],[34,1,"00112 23458 b8421 10"],
[35,1,"00112 23469 ca842 111"],[36,1,"00112 34689 ca731 10"],[36,69,"1"],[37,1,"00112 33579 aba62 10"],[37,68,"112"],
[38,2,"01123 479bb a7421 0"],[38,67,"01221"],[39,2,"01123 58bbb a8531 10"],[39,66,"0122321"],[40,1,"00112 36bdd ca865 4210"],[40,65,"01123321"],
[41,1,"00112 25cee dba86 54211"],[41,64,"0112344321"],[42,1,"00112 249eh hfca7 53211"],[42,64,"01234 554321"],[43,2,"01122 37chi jeb85 43211"],[43,63,"01234 56543 21"],
[44,1,"00011 235ag lmjfb 86433 21"],[44,62,"01224 56665 432"],[45,2,"01112 248em onjea 75432 11"],[45,61,"01123 56776 54321"],
[46,3,"01112 47ckp qmhc9 65432 11"],[46,60,"01123 46776 54321 1"],[47,4,"01123 59gmr pkfb8 64322 11"],[47,59,"01123 46776 65432 21"],
[48,4,"01112 48cio rpjea 75432 211"],[48,58,"01123 57886 54321 11"],[49,5,"01122 48ckq qmic9 64322 110"],[49,57,"01123 57897 54321 11"],
[50,5,"01112 358hn pnkfb 85432 2110"],[50,56,"01123 5789a 87543 211"],[51,6,"01112 479fk nnkgd 97543 32110"],[51,54,"01112 34689 ab975 4321"],
[52,7,"01112 37agl nmkgc 97543 322110"],[52,53,"00112 3468a cc975 43221"],[53,8,"01112 37afk mmjgd a8654 3322110"],[53,47,"0011"],[53,52,"01122 3578a cca86 53211 1"],
[54,9,"01111 369ei lmkif ca865 43322 2111100"],[54,42,"00"],[54,46,"00111 12234 5789b ccb98 653211"],
[55,10,"01111 369ei llkif ca865 43322 21111 00000 01111 12233 468ce fgfda 864321"],
[56,11,"01111 37afi lljhe b9765 43322 21111 00111 11112 22345 7bghi heb96 54321"],
[57,12,"01112 36adh klkif ca864 33322 22222 11112 22334 568ac ehiif da754 321"],
[58,13,"01111 358cg kmmki fdb97 65443 33444 44455 789ac dijji ifdc9 75432 1"],
[59,14,"01111 346ad hknon kifec aa988 77888 8889b cdefh lmlid a8765 4321"],
[60,15,"01112 3468c ehkmn oppom jheed ddddd eefgi jjjig eca87 55433 21"],
[61,18,"01123 58ace gijkm nnnnn nllmm nnmml jiige ca986 65433 221"],
[62,19,"01112 4579a cefgh ijjkk jjjkk kjige dca98 76544 32211"],
[63,21,"01122 35678 9abbc cdddd dddcb a9876 55443 33322 11"],
[64,23,"01122 34456 66677 77777 66655 54444 33333 2211"],
[65,26,"01122 33344 44444 44444 44333 33322 2221"],
[66,31,"01112 22222 22333 33222 221"],[66,55,"0011"],[67,33,"01111 22222 22222 1111"],
[68,35,"00"],[68,38,"11111111"],[68,47,"1111"],[69,39,"0"],[69,48,"01"]
];

const sourceDomainX = [-0.25, 0.3], sourceDomainY = [0.1, -0.3];
const modelDomainX = [-2, 1.83], modelDomainY = [1.7, -1.9];
const tickFont = "'Liberation Sans Narrow', 'Liberation Sans', sans-serif";

const svg = d3.select("#chart").append("svg").attr("width", 1298).attr("height", 1417);

// jet
function jet(lo, hi) {
  const t = d3.scaleLinear().domain([lo, hi]).range([0, 1]);
  const c = d3.scaleLinear()
    .domain([0, 0.11, 0.36, 0.61, 0.86, 1])
    .range(["#000080", "#0000ff", "#00ffff", "#ffff00", "#ff0000", "#800000"]);
  return v => c(t(v));
}

function pairs(flat) {
  const out = [];
  for (let i = 0; i < flat.length; i += 2) out.push([flat[i] / 1000, flat[i + 1] / 1000]);
  return out;
}

function colorbar(x0, y0, y1, lo, hi, ticks, color, labelX) {
  const bar = svg.append("g");
  const y = d3.scaleLinear().domain([lo, hi]).range([y1, y0]);
  const steps = d3.range(0, 128);
  bar.selectAll("rect").data(steps).enter().append("rect")
    .attr("x", x0).attr("width", 25)
    .attr("y", i => y(lo + (hi - lo) * (i + 1) / 128))
    .attr("height", (y1 - y0) / 128 + 0.6)
    .attr("fill", i => color(lo + (hi - lo) * (i + 0.5) / 128));
  bar.append("rect").attr("x", x0).attr("y", y0).attr("width", 25).attr("height", y1 - y0)
    .attr("fill", "none").attr("stroke", "#777").attr("stroke-width", 1);
  const tk = bar.selectAll("g.t").data(ticks).enter().append("g").attr("class", "t");
  tk.append("line").attr("x1", x0).attr("x2", x0 + 4).attr("y1", d => y(d)).attr("y2", d => y(d)).attr("stroke", "#111");
  tk.append("line").attr("x1", x0 + 21).attr("x2", x0 + 25).attr("y1", d => y(d)).attr("y2", d => y(d)).attr("stroke", "#111");
  tk.append("text").attr("x", labelX).attr("y", d => y(d)).attr("dy", "0.35em")
    .style("font-size", "14px").text(d => d);
}

function curve(x, y, flat, width, color, closed) {
  const line = d3.line().x(d => x(d[0])).y(d => y(d[1]))
    .curve(closed ? d3.curveCatmullRomClosed : d3.curveCatmullRom);
  svg.append("path").attr("d", line(pairs(flat))).attr("fill", "none")
    .attr("stroke", color).attr("stroke-width", width);
}

function sourcePanel(left, values, black, orange, curves, aperture, barX) {
  const x = d3.scaleLinear().domain(sourceDomainX).range([left, left + 506]);
  const y = d3.scaleLinear().domain(sourceDomainY).range([8, 532]);
  const color = jet(-0.2, 1);
  const calib = d3.scaleLinear().domain(cellCalibIn).range(cellCalibOut);
  const pts = pairs(cellPos);
  const vor = d3.Delaunay.from(pts, d => x(d[0]), d => y(d[1])).voronoi([left, 8, left + 506, 532]);
  svg.append("g").selectAll("path").data(pts).enter().append("path")
    .attr("d", (d, i) => vor.renderCell(i))
    .attr("fill", (d, i) => color(calib(values[i])))
    .attr("stroke", (d, i) => color(calib(values[i]))).attr("stroke-width", 0.6);

  curves.forEach(c => curve(x, y, c, 1, "#9cc4e4", false));

  svg.append("g").selectAll("circle").data(pairs(orange)).enter().append("circle")
    .attr("cx", d => x(d[0])).attr("cy", d => y(d[1])).attr("r", 1.8).attr("fill", "#e69a17");
  svg.append("g").selectAll("circle").data(pairs(black)).enter().append("circle")
    .attr("cx", d => x(d[0])).attr("cy", d => y(d[1])).attr("r", 2.1).attr("fill", "#000");

  curve(x, y, aperture, 2.6, "#000", true);

  svg.append("rect").attr("x", left).attr("y", 8).attr("width", 506).attr("height", 524)
    .attr("fill", "none").attr("stroke", "#333").attr("stroke-width", 1);

  const ax = svg.append("g").attr("transform", "translate(0,532)")
    .call(d3.axisBottom(x).tickValues(sourceXTicks).tickSize(0).tickPadding(13).tickFormat(d => d));
  const ay = svg.append("g").attr("transform", "translate(" + left + ",0)")
    .call(d3.axisLeft(y).tickValues(sourceYTicks).tickSize(0).tickPadding(7).tickFormat(d => d));
  [ax, ay].forEach(a => {
    a.select(".domain").remove();
    a.selectAll("text").style("font-size", "15px").style("font-family", tickFont).attr("fill", "#222");
  });

  colorbar(barX, 8, 532, -0.2, 1, sourceBarTicks, color, barX + 35);
}

function modelPanel(left, rows, rings, mark, barX) {
  const x = d3.scaleLinear().domain(modelDomainX).range([left, left + 500]);
  const y = d3.scaleLinear().domain(modelDomainY).range([782, 1328]);
  const color = jet(-0.1, 0.7);
  const cells = [];
  rows.forEach(r => {
    r[2].replace(/ /g, "").split("").forEach((ch, i) => {
      cells.push({ col: r[1] + i, row: r[0], v: levelValues[parseInt(ch, 36)] });
    });
  });
  svg.append("g").attr("shape-rendering", "crispEdges").selectAll("rect").data(cells).enter().append("rect")
    .attr("x", d => x(-2 + d.col * 0.05))
    .attr("y", d => y(1.65 - d.row * 0.05))
    .attr("width", x(0.05) - x(0) + 0.4)
    .attr("height", y(0) - y(0.05) + 0.4)
    .attr("fill", d => color(d.v));

  rings.forEach(r => curve(x, y, r, 2.4, "#000", true));
  curve(x, y, mark, 2, "#000", false);

  svg.append("rect").attr("x", left).attr("y", 782).attr("width", 500).attr("height", 546)
    .attr("fill", "none").attr("stroke", "#000").attr("stroke-width", 1);

  const ax = svg.append("g").attr("transform", "translate(0,1328)")
    .call(d3.axisBottom(x).tickValues(modelXTicks).tickSize(-4).tickPadding(9).tickFormat(d => d));
  const at = svg.append("g").attr("transform", "translate(0,782)")
    .call(d3.axisTop(x).tickValues(modelXTicks).tickSize(-4).tickFormat(""));
  const ay = svg.append("g").attr("transform", "translate(" + left + ",0)")
    .call(d3.axisLeft(y).tickValues(modelYTicks).tickSize(-4).tickPadding(6).tickFormat(d => d));
  const ar = svg.append("g").attr("transform", "translate(" + (left + 500) + ",0)")
    .call(d3.axisRight(y).tickValues(modelYTicks).tickSize(-4).tickFormat(""));
  [ax, at, ay, ar].forEach(a => {
    a.select(".domain").remove();
    a.selectAll("line").attr("stroke", "#777");
    a.selectAll("text").style("font-size", "14px").style("font-family", tickFont).attr("fill", "#222");
  });

  colorbar(barX, 782, 1328, -0.1, 0.7, modelBarTicks, color, barX + 34);
}

sourcePanel(41, cellValuesA, blackA, orangeA, curvesA, apertureA, 558);
sourcePanel(714, cellValuesB, blackB, orangeB, curvesB, apertureB, 1231);
modelPanel(44, modelRows, imageRingsC, subhaloMarkC, 557);
modelPanel(703, modelRows, imageRingsD, subhaloMarkD, 1216);

const capPos = [[317.5, 707], [989.5, 707], [321.5, 1410], [980.5, 1410]];
svg.selectAll("text.caption").data(captions).enter().append("text").attr("class", "caption")
  .attr("x", (d, i) => capPos[i][0]).attr("y", (d, i) => capPos[i][1])
  .attr("text-anchor", "middle").text(d => d);
</script>
</body>
</html>
